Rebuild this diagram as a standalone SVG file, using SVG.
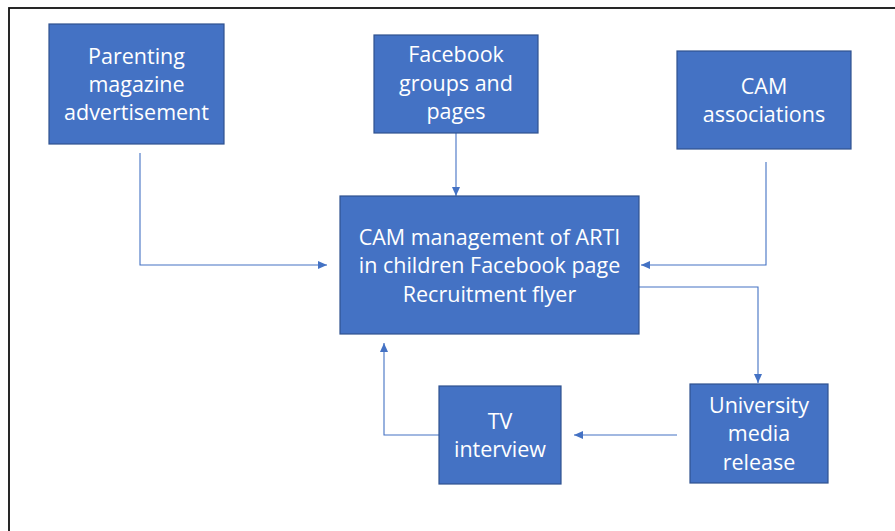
<svg xmlns="http://www.w3.org/2000/svg" width="895" height="531" viewBox="0 0 895 531">
  <defs>
    <marker id="arrow" markerWidth="9" markerHeight="8" refX="9" refY="4" orient="auto" markerUnits="userSpaceOnUse">
      <path d="M0,0 L9,4 L0,8 Z" fill="#4472C4"/>
    </marker>
    <style>
      .node rect { fill: #4472C4; stroke: #2F528F; stroke-width: 1.2; }
      .node text { fill: #FFFFFF; font-family: "Open Sans", "Liberation Sans", sans-serif; font-size: 21.5px; text-anchor: middle; }
      .edge { fill: none; stroke: #4472C4; stroke-width: 1.1; marker-end: url(#arrow); }
    </style>
  </defs>

  <rect x="0" y="0" width="895" height="531" fill="#FFFFFF"/>
  <!-- frame -->
  <rect x="9" y="8" width="900" height="540" fill="none" stroke="#111111" stroke-width="1.8"/>

  <g id="connectors">
    <polyline class="edge" points="140,153 140,265 327,265"/>
    <polyline class="edge" points="456,133 456,196"/>
    <polyline class="edge" points="766,162 766,265 641,265"/>
    <polyline class="edge" points="639,287 758,287 758,383"/>
    <polyline class="edge" points="677,435 574,435"/>
    <polyline class="edge" points="439,435 384,435 384,343"/>
  </g>

  <g id="parenting" class="node">
    <rect x="49" y="24" width="175" height="120"/>
    <text x="136.5" y="64">Parenting</text>
    <text x="136.5" y="92">magazine</text>
    <text x="136.5" y="120">advertisement</text>
  </g>

  <g id="facebook-groups" class="node">
    <rect x="374" y="35" width="164" height="98"/>
    <text x="456" y="62">Facebook</text>
    <text x="456" y="91">groups and</text>
    <text x="456" y="119">pages</text>
  </g>

  <g id="cam-associations" class="node">
    <rect x="677" y="51" width="174" height="98"/>
    <text x="764" y="94">CAM</text>
    <text x="764" y="122">associations</text>
  </g>

  <g id="cam-page" class="node">
    <rect x="340" y="196" width="299" height="138"/>
    <text x="489.5" y="245">CAM management of ARTI</text>
    <text x="489.5" y="273">in children Facebook page</text>
    <text x="489.5" y="302">Recruitment flyer</text>
  </g>

  <g id="tv-interview" class="node">
    <rect x="439" y="386" width="122" height="98"/>
    <text x="500" y="429">TV</text>
    <text x="500" y="457">interview</text>
  </g>

  <g id="university-release" class="node">
    <rect x="690" y="384" width="138" height="99"/>
    <text x="759" y="413">University</text>
    <text x="759" y="441">media</text>
    <text x="759" y="470">release</text>
  </g>
</svg>
